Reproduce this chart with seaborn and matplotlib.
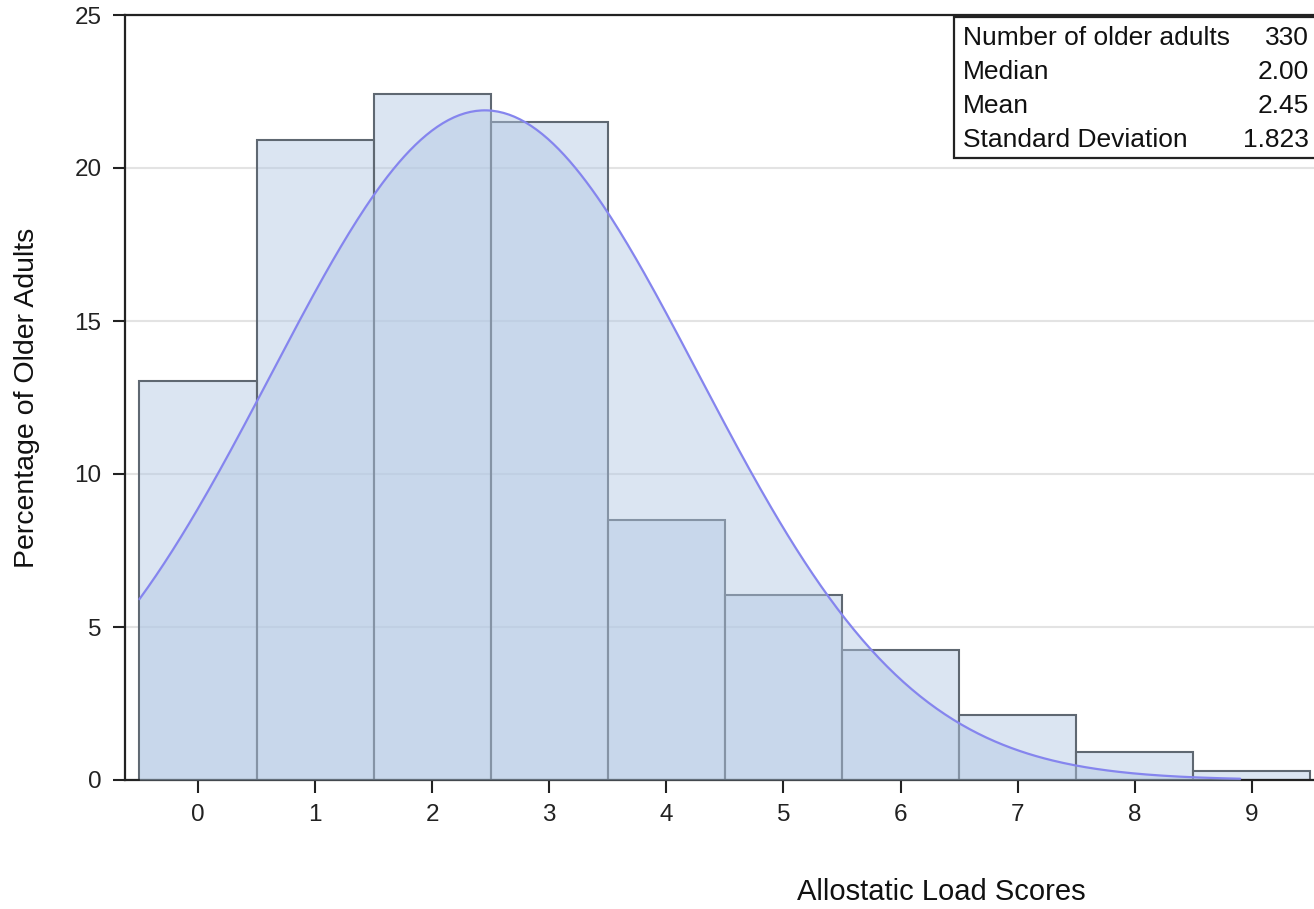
import numpy as np
import pandas as pd
import matplotlib
matplotlib.use("Agg")
import matplotlib.pyplot as plt
import matplotlib.patches as mpatches
import seaborn as sns

# ---- data ----
scores = [0, 1, 2, 3, 4, 5, 6, 7, 8, 9]
counts = [43, 69, 74, 71, 28, 20, 14, 7, 3, 1]
stat_labels = ["Number of older adults", "Median", "Mean", "Standard Deviation"]
stat_values = ["330", "2.00", "2.45", "1.823"]
fit_mean = 2.45
fit_sd = 1.823
curve_range = (-0.5, 8.9)
x_ticks = [0, 1, 2, 3, 4, 5, 6, 7, 8, 9]
y_ticks = [0, 5, 10, 15, 20, 25]

sns.set_theme(style="white")
plt.rcParams["font.family"] = ["Liberation Sans", "DejaVu Sans"]

W, H = 1314, 909
fig = plt.figure(figsize=(W / 100, H / 100), dpi=100)
L, R, B, T = 125, 1314, 780, 15
ax = fig.add_axes([L / W, 1 - B / H, (R - L) / W, (B - T) / H])

df = pd.DataFrame({"score": scores, "count": counts})

ax.yaxis.grid(True, color="#e3e3e3", linewidth=1.5, zorder=0)
ax.set_axisbelow(True)

sns.histplot(data=df, x="score", weights="count", discrete=True, stat="percent",
             color="#b2c8e3", alpha=0.46, edgecolor="#5f6872", linewidth=1.5,
             ax=ax, zorder=2)

# fitted normal curve (percent scale, bin width 1)
xs = np.linspace(curve_range[0], curve_range[1], 400)
ys = 100.0 / (fit_sd * np.sqrt(2 * np.pi)) * np.exp(-0.5 * ((xs - fit_mean) / fit_sd) ** 2)
ax.fill_between(xs, 0, ys, color="#b2c8e3", alpha=0.46, linewidth=0, zorder=3)
sns.lineplot(x=xs, y=ys, color="#8585ee", linewidth=1.6, ax=ax, zorder=4)

ax.set_xlim(-0.623, 9.53)
ax.set_ylim(0, 25)
ax.set_xticks(x_ticks)
ax.set_yticks(y_ticks)
ax.tick_params(axis="both", direction="out", length=9, width=1.5, color="#222222",
               labelsize=17.5, labelcolor="#222222", pad=8, left=True, bottom=True)

for s in ["left", "bottom", "top"]:
    ax.spines[s].set_visible(True)
    ax.spines[s].set_color("#222222")
    ax.spines[s].set_linewidth(1.6)
ax.spines["right"].set_visible(False)

ax.set_xlabel("Allostatic Load Scores", fontsize=21, color="#111111")
ax.set_ylabel("Percentage of Older Adults", fontsize=20.5, color="#111111")
ax.xaxis.set_label_coords((941 - L) / (R - L), (B - 878) / (B - T))
ax.yaxis.set_label_coords((40 - L) / (R - L), 0.5)

# statistics inset table
def ax_x(px):
    return (px - L) / (R - L)

def ax_y(py):
    return (B - py) / (B - T)

box = mpatches.Rectangle((ax_x(954), ax_y(158)), ax_x(1330) - ax_x(954), ax_y(17) - ax_y(158),
                         transform=ax.transAxes, facecolor="white", edgecolor="#222222",
                         linewidth=1.6, clip_on=False, zorder=6)
ax.add_patch(box)
row_y = [38, 72, 106, 140]
for lab, val, py in zip(stat_labels, stat_values, row_y):
    ax.text(ax_x(963), ax_y(py), lab, transform=ax.transAxes, ha="left", va="center",
            fontsize=19, color="#111111", zorder=7)
    ax.text(ax_x(1309), ax_y(py), val, transform=ax.transAxes, ha="right", va="center",
            fontsize=19, color="#111111", zorder=7)

fig.savefig("out.png", dpi=100)
